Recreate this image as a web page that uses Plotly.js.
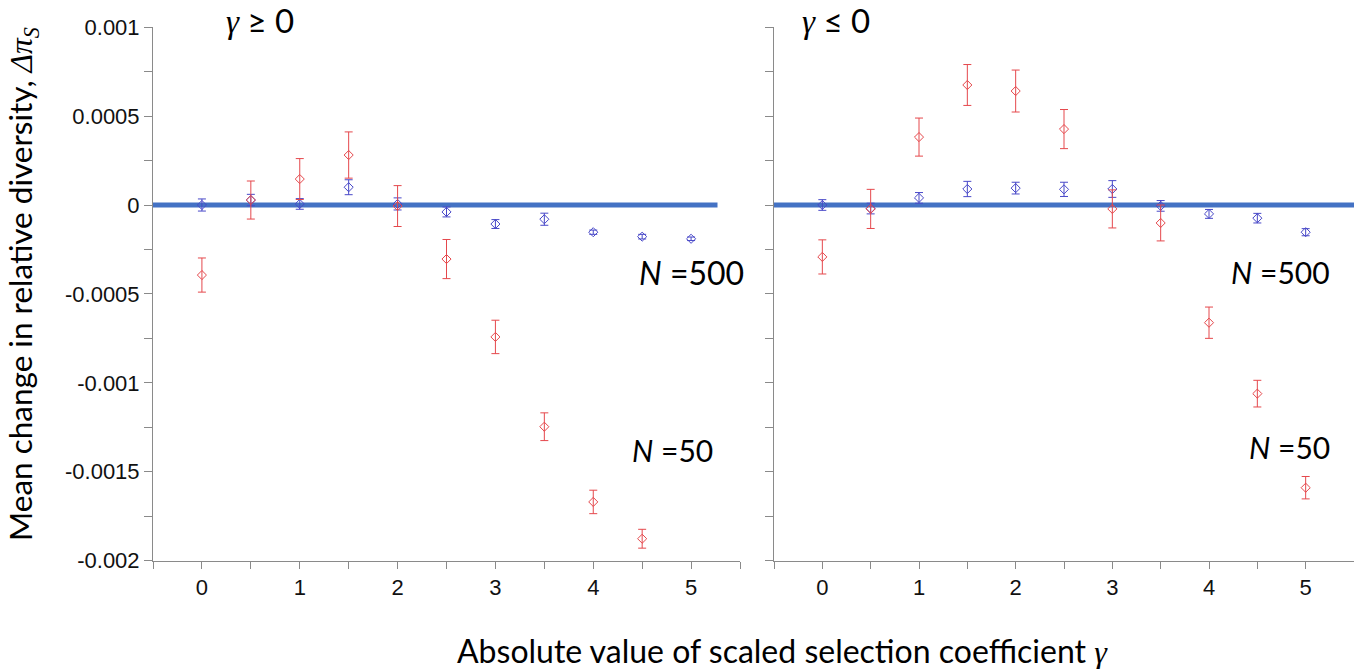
<!DOCTYPE html>
<html>
<head>
<meta charset="utf-8">
<script src="https://cdn.plot.ly/plotly-3.0.1.min.js"></script>
<style>html,body{margin:0;padding:0;background:#fff;}#chart{width:1354px;height:669px;}</style>
</head>
<body>
<div id="chart"></div>
<script>
// ---- data ----
const gammaN50Pos = [0, 0.5, 1, 1.5, 2, 2.5, 3, 3.5, 4, 4.5];
const gammaAll = [0, 0.5, 1, 1.5, 2, 2.5, 3, 3.5, 4, 4.5, 5];

// gamma >= 0 panel
const posN50 = [-0.000394, 0.000028, 0.000146, 0.000281, -0.000006, -0.000304, -0.000742, -0.001247, -0.00167, -0.001877];
const posN50Err = [0.000096, 0.000107, 0.000115, 0.00013, 0.000115, 0.00011, 0.000094, 0.000078, 0.000066, 0.000053];
const posN500 = [0.0, 0.000028, 0.000006, 0.0001, 0.000006, -0.000039, -0.000107, -0.00008, -0.000153, -0.000178, -0.00019];
const posN500Err = [0.000034, 0.000032, 0.00003, 0.000042, 0.000034, 0.000028, 0.000025, 0.000034, 0.000012, 0.000013, 0.00001];

// gamma <= 0 panel
const negN50 = [-0.000292, -0.000022, 0.000382, 0.000675, 0.000641, 0.000427, -0.000022, -0.000101, -0.000662, -0.001061, -0.00159];
const negN50Err = [0.000096, 0.00011, 0.000107, 0.000115, 0.000118, 0.00011, 0.000107, 0.000101, 0.000088, 0.000075, 0.000063];
const negN500 = [0.0, -0.00002, 0.00004, 0.00009, 0.000095, 0.000088, 0.00009, -0.000005, -0.00005, -0.000074, -0.000153];
const negN500Err = [0.00003, 0.00003, 0.00003, 0.000043, 0.000033, 0.00004, 0.000047, 0.00003, 0.000025, 0.000027, 0.00002];

// zero reference lines
const zeroLeftX = [-0.5, 5.27];
const zeroRightX = [-0.5, 5.5];
const zeroY = [0, 0];

// ticks
const xTickVals = [0, 1, 2, 3, 4, 5];
const yTickVals = [0.001, 0.0005, 0, -0.0005, -0.001, -0.0015, -0.002];
const yTickText = ['0.001', '0.0005', '0', '-0.0005', '-0.001', '-0.0015', '-0.002'];

// ---- styling ----
const RED = '#e5484c';
const BLUE = '#4848c8';
const LINEBLUE = '#4472C4';
const AXIS = '#8a8a8a';
const SANS = 'Lato, "Open Sans", sans-serif';
const TICKFONT = {family: '"Liberation Sans", Arial, sans-serif', size: 22, color: '#111'};
const G = '<span style="font-family:\'Liberation Serif\',serif"><i>γ</i></span>';

function pts(x, y, err, color, xa, ya) {
  return {
    type: 'scatter', mode: 'markers', x: x, y: y, xaxis: xa, yaxis: ya,
    marker: {symbol: 'diamond-open', size: 7, color: color, line: {width: 1, color: color}},
    error_y: {type: 'data', array: err, visible: true, color: color, thickness: 1, width: 4},
    hoverinfo: 'x+y'
  };
}
function zline(x, xa, ya) {
  return {type: 'scatter', mode: 'lines', x: x, y: zeroY, xaxis: xa, yaxis: ya,
    line: {color: LINEBLUE, width: 5}, hoverinfo: 'skip'};
}

const data = [
  zline(zeroLeftX, 'x', 'y'),
  zline(zeroRightX, 'x2', 'y2'),
  pts(gammaAll, posN500, posN500Err, BLUE, 'x', 'y'),
  pts(gammaN50Pos, posN50, posN50Err, RED, 'x', 'y'),
  pts(gammaAll, negN500, negN500Err, BLUE, 'x2', 'y2'),
  pts(gammaAll, negN50, negN50Err, RED, 'x2', 'y2')
];

const W = 1354, H = 669;
const yDom = [(H - 560.6) / H, (H - 27.2) / H];

function xAxis(dom, anchor) {
  return {
    domain: dom, anchor: anchor, range: [-0.5, 5.5],
    tickmode: 'array', tickvals: xTickVals,
    ticks: 'outside', ticklen: 7, tickcolor: AXIS, tickwidth: 1,
    minor: {tickmode: 'linear', tick0: 0, dtick: 0.5, ticks: 'outside', ticklen: 7, tickcolor: AXIS, tickwidth: 1, showgrid: false},
    showline: true, linecolor: AXIS, linewidth: 1,
    showgrid: false, zeroline: false, tickfont: TICKFONT, fixedrange: true
  };
}
function yAxis(anchor, labels) {
  return {
    domain: yDom, anchor: anchor, range: [-0.002, 0.001],
    tickmode: 'array', tickvals: yTickVals, ticktext: yTickText, showticklabels: labels,
    ticks: 'outside', ticklen: 8, tickcolor: AXIS, tickwidth: 1,
    minor: {tickmode: 'linear', tick0: 0, dtick: 0.00025, ticks: 'outside', ticklen: 8, tickcolor: AXIS, tickwidth: 1, showgrid: false},
    showline: true, linecolor: AXIS, linewidth: 1,
    showgrid: false, zeroline: false, tickfont: TICKFONT, fixedrange: true
  };
}

const BIG = {family: SANS, size: 30, color: '#000'};
function big(sz) { return {family: SANS, size: sz, color: '#000'}; }

const layout = {
  width: W, height: H,
  margin: {l: 0, r: 0, t: 0, b: 0},
  paper_bgcolor: '#fff', plot_bgcolor: '#fff',
  showlegend: false,
  xaxis: xAxis([153 / W, 740 / W], 'y'),
  yaxis: yAxis('x', true),
  xaxis2: xAxis([774 / W, 1], 'y2'),
  yaxis2: yAxis('x2', false),
  annotations: [
    {xref: 'paper', yref: 'paper', x: 22 / W, y: (H - 284) / H, textangle: -90, showarrow: false,
     xanchor: 'center', yanchor: 'middle',
     text: 'Mean change in relative diversity, <span style="font-family:\'Liberation Serif\',serif"><i>Δπ<sub>S</sub></i></span>', font: big(31.5)},
    {xref: 'paper', yref: 'paper', x: 782 / W, y: (H - 650) / H, showarrow: false,
     xanchor: 'center', yanchor: 'middle',
     text: 'Absolute value of scaled selection coefficient ' + G, font: big(32)},
    {xref: 'paper', yref: 'paper', x: 224 / W, y: (H - 20) / H, showarrow: false,
     xanchor: 'left', yanchor: 'middle', text: G + ' ≥ 0', font: big(33)},
    {xref: 'paper', yref: 'paper', x: 800 / W, y: (H - 20) / H, showarrow: false,
     xanchor: 'left', yanchor: 'middle', text: G + ' ≤ 0', font: big(33)},
    {xref: 'paper', yref: 'paper', x: 746 / W, y: (H - 272) / H, showarrow: false,
     xanchor: 'right', yanchor: 'middle', text: '<i>N</i> =500', font: big(32)},
    {xref: 'paper', yref: 'paper', x: 715 / W, y: (H - 450) / H, showarrow: false,
     xanchor: 'right', yanchor: 'middle', text: '<i>N</i> =50', font: BIG},
    {xref: 'paper', yref: 'paper', x: 1332 / W, y: (H - 272) / H, showarrow: false,
     xanchor: 'right', yanchor: 'middle', text: '<i>N</i> =500', font: BIG},
    {xref: 'paper', yref: 'paper', x: 1332 / W, y: (H - 447) / H, showarrow: false,
     xanchor: 'right', yanchor: 'middle', text: '<i>N</i> =50', font: BIG}
  ]
};

Plotly.newPlot('chart', data, layout, {displayModeBar: false, staticPlot: true});
</script>
</body>
</html>
